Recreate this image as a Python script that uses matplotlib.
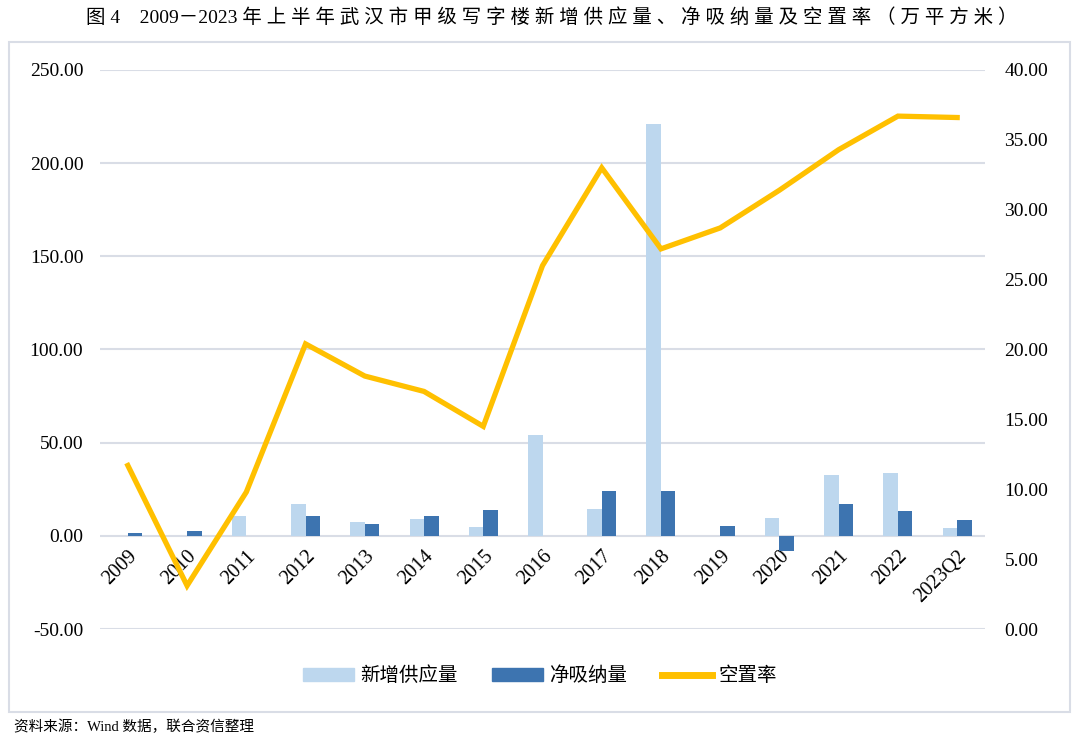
import matplotlib.pyplot as plt
from matplotlib.patches import Rectangle, Patch
from matplotlib.lines import Line2D
from matplotlib.ticker import FormatStrFormatter
import numpy as np

plt.rcParams['font.family'] = ['Liberation Serif', 'Noto Sans CJK SC', 'DejaVu Sans']

years = ['2009', '2010', '2011', '2012', '2013', '2014', '2015', '2016',
         '2017', '2018', '2019', '2020', '2021', '2022', '2023Q2']
new_supply = [0, 0, 10.9, 17.3, 7.5, 8.8, 4.6, 54.0,
              14.5, 221.0, 0, 9.7, 32.5, 33.8, 4.3]
net_absorb = [1.6, 2.7, 0, 10.6, 6.4, 10.9, 14.1, 0,
              24.1, 24.1, 5.4, -8.0, 17.2, 13.2, 8.6]
vacancy = [11.7, 3.1, 9.8, 20.4, 18.1, 17.0, 14.5, 26.0,
           33.0, 27.2, 28.7, 31.4, 34.3, 36.7, 36.6]

light_c = '#bdd7ee'
dark_c = '#3d74b0'
line_c = '#ffc000'
grid_c = '#d9dde6'

fig = plt.figure(figsize=(10.8, 7.42), dpi=100)
ax = fig.add_axes([100 / 1080, 1 - 629 / 742, 885 / 1080, 559 / 742])

# 外框
fig.add_artist(Rectangle((9 / 1080, 1 - 712 / 742), 1061 / 1080, 670 / 742,
                         transform=fig.transFigure, fill=False,
                         edgecolor=grid_c, linewidth=1.5))

x = np.arange(len(years))
w = 0.245
ax.bar(x - w / 2, new_supply, w, color=light_c, zorder=2)
ax.bar(x + w / 2, net_absorb, w, color=dark_c, zorder=2)

ax.set_ylim(-50, 250)
ax.set_yticks(np.arange(-50, 251, 50))
ax.yaxis.set_major_formatter(FormatStrFormatter('%.2f'))
ax.set_xlim(-0.47, 14.47)
ax.grid(axis='y', color=grid_c, linewidth=1.5, zorder=0)
for s in ax.spines.values():
    s.set_visible(False)
ax.spines['bottom'].set_position(('data', 0))
ax.set_xticks(x)
ax.set_xticklabels(years, rotation=45, ha='right', va='top',
                   rotation_mode='anchor')
ax.tick_params(axis='x', length=0, pad=8, labelsize=14.5)
ax.tick_params(axis='y', length=0, pad=12, labelsize=14)

ax2 = ax.twinx()
ax2.plot(x, vacancy, color=line_c, linewidth=3.8, solid_joinstyle='miter', zorder=3)
ax2.set_ylim(0, 40)
ax2.set_yticks(np.arange(0, 41, 5))
ax2.yaxis.set_major_formatter(FormatStrFormatter('%.2f'))
ax2.tick_params(axis='y', length=0, pad=14, labelsize=14)
for s in ax2.spines.values():
    s.set_visible(False)

handles = [Patch(color=light_c), Patch(color=dark_c),
           Line2D([], [], color=line_c, linewidth=5)]
fig.legend(handles, ['新增供应量', '净吸纳量', '空置率'],
           loc='center', bbox_to_anchor=(0.5, 1 - 676 / 742), ncol=3,
           frameon=False, fontsize=14, handlelength=2.6, columnspacing=1.8,
           handletextpad=0.3)

# 标题字间距较宽
title = '图 4　2009－2023 ' + ' '.join('年上半年武汉市甲级写字楼新增供应量、净吸纳量及空置率（万平方米）')
fig.text(552 / 1080, 1 - 18 / 742, title, ha='center', va='center', fontsize=14)
fig.text(14 / 1080, 1 - 727 / 742, '资料来源：Wind 数据，联合资信整理',
         ha='left', va='center', fontsize=10.5)

fig.savefig('out.png', dpi=100)
